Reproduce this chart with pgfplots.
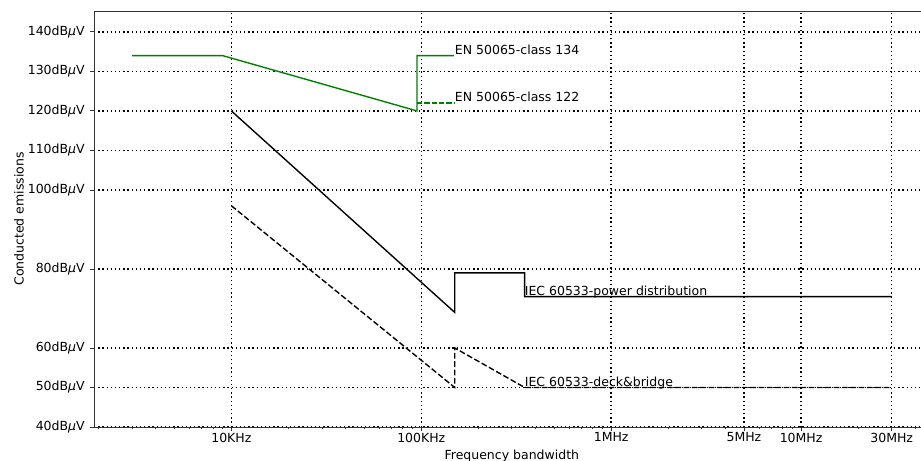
\documentclass[border=0pt]{standalone}
\usepackage{fontspec}
\setmainfont{DejaVu Sans}
\usepackage{pgfplots}
\pgfplotsset{compat=1.18}
\definecolor{mplgreen}{HTML}{008000}
\begin{document}
\begin{tikzpicture}
\begin{axis}[
  scale only axis,
  width=601.6pt, height=299.5pt,
  xmode=log,
  xmin=1893, xmax=4.75e7,
  ymin=40, ymax=145.3,
  font=\fontsize{9}{11}\selectfont,
  /pgf/number format/assume math mode=true,
  xtick={1e4,1e5,1e6,5e6,1e7,3e7},
  xticklabels={10KHz,100KHz,1MHz,5MHz,10MHz,30MHz},
  minor xtick={2000,3000,4000,5000,6000,7000,8000,9000,20000,30000,40000,50000,60000,70000,80000,90000,200000,300000,400000,500000,600000,700000,800000,900000,2e6,3e6,4e6,6e6,7e6,8e6,9e6,2e7,4e7},
  ytick={40,50,60,80,100,110,120,130,140},
  yticklabels={40dB\textit{μ}V,50dB\textit{μ}V,60dB\textit{μ}V,80dB\textit{μ}V,100dB\textit{μ}V,110dB\textit{μ}V,120dB\textit{μ}V,130dB\textit{μ}V,140dB\textit{μ}V},
  tick align=outside,
  major tick length=3.2pt,
  minor tick length=1.8pt,
  tick style={black!80, line width=0.6pt},
  xtick pos=bottom, ytick pos=left,
  axis line style={black!80, line width=0.6pt},
  xmajorgrids, ymajorgrids,
  major grid style={black, line width=1pt, dotted},
  xlabel={Frequency bandwidth},
  ylabel={Conducted emissions},
  xticklabel style={yshift=2.5pt},
  xlabel style={yshift=1.5pt},
  ylabel style={yshift=-4pt},
  clip=false,
]
\addplot[mplgreen, line width=1pt] coordinates {(3000,134) (9000,134) (95000,120) (95000,134) (148500,134)};
\addplot[mplgreen, line width=1pt, dash pattern=on 3.7pt off 1.6pt] coordinates {(95000,122) (148500,122)};
\addplot[black, line width=1pt] coordinates {(10000,120) (150000,69) (150000,79) (350000,79) (350000,73) (30000000,73)};
\addplot[black, line width=1pt, dash pattern=on 4.2pt off 1.8pt] coordinates {(10000,96) (150000,50) (150000,60) (350000,50) (30000000,50)};
\node[anchor=base west, inner sep=0pt, yshift=1pt] at (axis cs:150000,134) {EN 50065-class 134};
\node[anchor=base west, inner sep=0pt, yshift=1pt] at (axis cs:150000,122) {EN 50065-class 122};
\node[anchor=base west, inner sep=0pt, yshift=1pt] at (axis cs:350000,73) {IEC 60533-power distribution};
\node[anchor=base west, inner sep=0pt, yshift=1pt] at (axis cs:350000,50) {IEC 60533-deck\&bridge};
\end{axis}
\pgfresetboundingbox
\path[use as bounding box] ([shift={(-67.7pt,-24.5pt)}]current axis.south west) rectangle ([shift={(595.4pt,307.4pt)}]current axis.south west);
\end{tikzpicture}
\end{document}
